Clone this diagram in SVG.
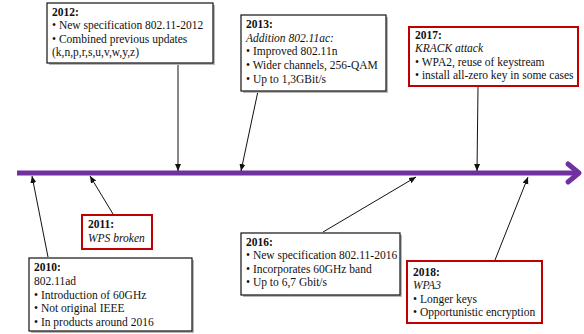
<svg xmlns="http://www.w3.org/2000/svg" width="584" height="334" viewBox="0 0 584 334">
<style>
text{font-family:"Liberation Serif","Times New Roman",serif;font-size:11.5px;fill:#111}
.t{font-weight:bold}
.i{font-style:italic}
.box{fill:#fff;stroke:#111;stroke-width:1.2}
.red{fill:#fff;stroke:#C00000;stroke-width:2}
.sh{fill:#b8b8b8}
.c{stroke:#111;stroke-width:1;fill:none;marker-end:url(#ah)}
</style>
<defs>
<marker id="ah" markerWidth="8" markerHeight="8" refX="7" refY="4" orient="auto" markerUnits="userSpaceOnUse">
<path d="M0,1 L7,4 L0,7 Z" fill="#111"/>
</marker>
</defs>
<rect width="584" height="334" fill="#fff"/>
<g id="timeline">
<line x1="17" y1="173" x2="578" y2="173" stroke="#7030A0" stroke-width="5"/>
<polyline points="568,164 579,173 568,182" fill="none" stroke="#7030A0" stroke-width="5" stroke-linejoin="round" stroke-linecap="round"/>
</g>
<g id="connectors">
<line class="c" x1="178" y1="64" x2="178" y2="171"/>
<line class="c" x1="258" y1="91" x2="241" y2="171"/>
<line class="c" x1="478" y1="87" x2="477" y2="171"/>
<line class="c" x1="48" y1="257" x2="32" y2="176"/>
<line class="c" x1="113" y1="214" x2="90" y2="176"/>
<line class="c" x1="323" y1="232" x2="416" y2="177"/>
<line class="c" x1="495" y1="260" x2="528" y2="177"/>
</g>
<g id="n2012">
<rect class="sh" x="49" y="5" width="166" height="60"/>
<rect class="box" x="47" y="3" width="166" height="60"/>
<text x="52" y="16" class="t">2012:</text>
<text x="52" y="29">• New specification 802.11-2012</text>
<text x="52" y="43">• Combined previous updates</text>
<text x="52" y="56">(k,n,p,r,s,u,v,w,y,z)</text>
</g>
<g id="n2013">
<rect class="sh" x="243" y="17" width="145" height="76"/>
<rect class="box" x="241" y="15" width="145" height="76"/>
<text x="246" y="28" class="t">2013:</text>
<text x="246" y="42" class="i">Addition 802.11ac:</text>
<text x="246" y="55">• Improved 802.11n</text>
<text x="246" y="69">• Wider channels, 256-QAM</text>
<text x="246" y="83">• Up to 1,3GBit/s</text>
</g>
<g id="n2017">
<rect class="red" x="409" y="27" width="169" height="59"/>
<text x="415" y="39" class="t">2017:</text>
<text x="415" y="52" class="i">KRACK attack</text>
<text x="415" y="66">• WPA2, reuse of keystream</text>
<text x="415" y="79">• install all-zero key in some cases</text>
</g>
<g id="n2011">
<rect class="red" x="82" y="215" width="70" height="34"/>
<text x="88" y="228" class="t">2011:</text>
<text x="88" y="242" class="i">WPS broken</text>
</g>
<g id="n2010">
<rect class="sh" x="31" y="260" width="163" height="73"/>
<rect class="box" x="29" y="258" width="163" height="73"/>
<text x="34" y="271" class="t">2010:</text>
<text x="34" y="285">802.11ad</text>
<text x="34" y="299">• Introduction of 60GHz</text>
<text x="34" y="312">• Not original IEEE</text>
<text x="34" y="326">• In products around 2016</text>
</g>
<g id="n2016">
<rect class="sh" x="243" y="235" width="159" height="62"/>
<rect class="box" x="241" y="233" width="159" height="62"/>
<text x="246" y="246" class="t">2016:</text>
<text x="246" y="259">• New specification 802.11-2016</text>
<text x="246" y="273">• Incorporates 60GHz band</text>
<text x="246" y="286">• Up to 6,7 Gbit/s</text>
</g>
<g id="n2018">
<rect class="red" x="407" y="261" width="135" height="62"/>
<text x="413" y="276" class="t">2018:</text>
<text x="413" y="289" class="i">WPA3</text>
<text x="413" y="303">• Longer keys</text>
<text x="413" y="316">• Opportunistic encryption</text>
</g>
</svg>
